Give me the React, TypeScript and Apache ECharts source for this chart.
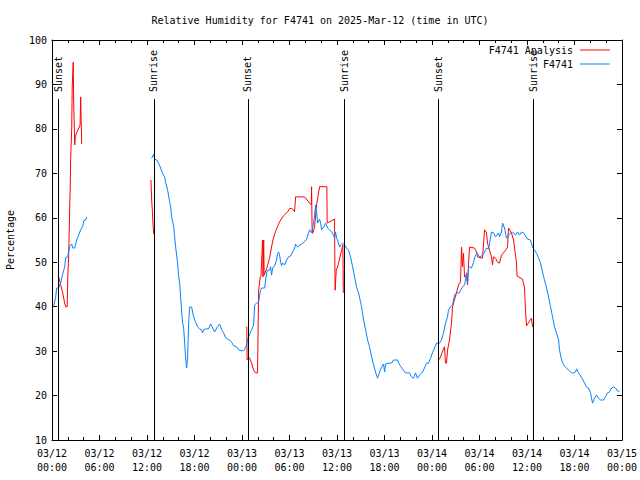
import React, { useEffect, useRef } from "react";
import * as echarts from "echarts";

// ---- data (time in hours since 2025-03-12 00:00 UTC) ----
const xTickLabels = [
  "03/12\n00:00", "03/12\n06:00", "03/12\n12:00", "03/12\n18:00",
  "03/13\n00:00", "03/13\n06:00", "03/13\n12:00", "03/13\n18:00",
  "03/14\n00:00", "03/14\n06:00", "03/14\n12:00", "03/14\n18:00",
  "03/15\n00:00",
];

const sunEventNames = ["Sunset", "Sunrise", "Sunset", "Sunrise", "Sunset", "Sunrise"];
const sunEventHours = [0.78, 12.86, 24.75, 36.93, 48.82, 60.82];
const sunLineBottom = 10;
const sunLineTop = 86.7;

const obsSeg1Hours = [0.21, 0.47, 0.59, 0.85, 0.97, 1.10, 1.22, 1.48, 1.60, 1.73, 1.98, 2.23, 2.49, 2.61, 2.87, 3.12, 3.37, 3.62, 3.88, 4.00, 4.26, 4.38];
const obsSeg1Values = [40.1, 42.2, 44.2, 44.2, 44.9, 45.3, 46.4, 48.2, 49.0, 51.0, 51.2, 53.6, 54.1, 53.2, 53.2, 55.0, 56.1, 57.3, 58.0, 59.3, 59.5, 60.2];

const obsSeg2Hours = [
  12.59, 12.84, 12.97, 13.22, 13.47, 13.72, 13.97, 14.23, 14.35, 14.61, 14.86, 14.99, 15.11, 15.37, 15.49, 15.62, 15.87, 16.00, 16.13, 16.25,
  16.38, 16.50, 16.63, 16.76, 16.88, 17.01, 17.13, 17.26, 17.39, 17.64, 17.76, 17.89, 18.14, 18.40, 18.65, 18.90, 19.03, 19.15, 19.41, 19.78,
  20.04, 20.29, 20.54, 20.80, 21.17, 21.43, 21.68, 21.93, 22.44, 22.69, 22.94, 23.32, 23.70, 24.21, 24.46, 24.71, 24.96, 25.21, 25.47, 25.60,
  25.85, 26.10, 26.23, 26.35, 26.48, 26.86, 26.99, 27.11, 27.23, 27.49, 27.61, 27.74, 27.87, 28.12, 28.37, 28.50, 28.63, 28.75, 28.88, 29.00,
  29.13, 29.38, 29.64, 29.89, 30.14, 30.39, 30.52, 30.65, 30.77, 30.90, 31.02, 31.28, 31.53, 31.91, 32.16, 32.41, 32.54, 32.79, 33.04, 33.17,
  33.30, 33.42, 33.55, 33.80, 33.93, 34.05, 34.31, 34.56, 34.81, 35.06, 35.32, 35.57, 35.69, 35.82, 35.95, 36.07, 36.33, 36.45, 36.70, 36.96,
  37.21, 37.46, 37.71, 37.97, 38.22, 38.47, 38.72, 38.98, 39.10, 39.36, 39.61, 39.86, 40.11, 40.37, 40.62, 40.87, 41.12, 41.38, 41.63, 41.88,
  42.01, 42.13, 42.51, 42.89, 43.14, 43.65, 43.90, 44.28, 44.65, 45.16, 45.41, 45.66, 45.92, 46.17, 46.42, 46.80, 47.05, 47.31, 47.56, 47.81,
  48.06, 48.32, 48.57, 48.95, 49.20, 49.45, 49.71, 49.96, 50.08, 50.34, 50.59, 50.72, 50.84, 51.09, 51.47, 51.60, 51.85, 52.11, 52.23, 52.36,
  52.49, 52.61, 52.74, 52.99, 53.24, 53.50, 53.75, 54.00, 54.26, 54.51, 54.76, 54.89, 55.14, 55.27, 55.52, 55.77, 56.03, 56.41, 56.53, 56.78,
  56.91, 57.16, 57.41, 57.66, 57.92, 58.17, 58.55, 58.80, 59.05, 59.31, 59.56, 59.81, 60.07, 60.44, 60.70, 60.95, 61.20, 61.46, 61.71, 61.96,
  62.21, 62.47, 62.72, 62.97, 63.23, 63.48, 63.73, 63.99, 64.11, 64.37, 64.62, 64.87, 65.25, 65.63, 65.88, 66.13, 66.26, 66.51, 66.76, 67.02,
  67.27, 67.52, 67.77, 68.03, 68.15, 68.28, 68.53, 68.78, 69.04, 69.29, 69.67, 69.92, 70.17, 70.42, 70.68, 70.93, 71.18, 71.44, 71.69,
];
const obsSeg2Values = [
  73.4, 74.3, 73.2, 73.0, 72.3, 71.2, 70.0, 69.2, 68.0, 66.2, 63.6, 62.4, 60.2, 58.0, 55.7, 53.4, 49.8, 46.7, 45.3, 42.2,
  38.8, 36.3, 35.2, 31.8, 28.4, 26.2, 28.7, 36.3, 39.9, 39.9, 38.8, 37.7, 36.5, 35.4, 35.0, 34.8, 34.1, 34.8, 35.0, 35.0,
  36.1, 35.2, 34.3, 35.2, 36.1, 34.8, 34.1, 33.0, 32.5, 32.0, 31.2, 31.0, 30.1, 30.1, 30.7, 32.5, 33.8, 34.8, 35.9, 40.4,
  40.8, 41.0, 42.6, 43.7, 44.2, 44.2, 46.0, 47.6, 48.2, 48.2, 49.0, 47.1, 48.7, 49.2, 50.5, 52.0, 52.3, 51.6, 50.0, 49.2,
  49.8, 49.4, 50.5, 51.2, 51.4, 52.3, 52.7, 53.2, 54.1, 53.6, 53.4, 53.9, 54.1, 54.6, 55.2, 56.6, 57.3, 56.6, 58.8, 60.6,
  62.9, 61.3, 58.8, 59.7, 58.8, 57.3, 57.9, 58.8, 57.7, 57.3, 56.8, 56.1, 55.4, 56.8, 55.4, 55.0, 53.4, 53.9, 54.3, 53.9,
  53.2, 52.7, 51.2, 49.0, 46.7, 44.4, 43.1, 41.0, 40.0, 37.0, 34.8, 32.5, 31.0, 28.7, 26.9, 25.3, 23.9, 25.3, 26.4, 27.1,
  25.3, 27.1, 27.3, 27.3, 28.0, 28.0, 26.9, 26.0, 25.1, 25.1, 24.2, 23.9, 25.1, 23.9, 24.6, 25.3, 26.2, 27.3, 27.3, 28.4,
  29.6, 30.7, 31.8, 31.8, 32.5, 34.1, 36.3, 37.7, 39.2, 40.0, 40.4, 41.5, 42.6, 43.1, 43.1, 43.7, 44.4, 44.9, 46.0, 47.6,
  45.3, 48.7, 49.0, 48.7, 50.0, 51.6, 52.0, 51.2, 51.4, 51.9, 52.7, 53.2, 53.0, 54.3, 56.8, 56.6, 55.7, 56.6, 55.7, 56.8,
  58.8, 57.7, 55.4, 56.1, 56.6, 56.8, 56.1, 56.8, 56.1, 56.8, 56.6, 55.9, 55.2, 55.0, 53.4, 52.7, 52.0, 51.0, 49.8, 47.8,
  46.0, 44.2, 42.2, 40.0, 37.7, 35.4, 34.1, 32.5, 30.2, 28.0, 26.9, 26.4, 25.7, 25.1, 25.1, 25.3, 26.0, 25.1, 24.4, 23.7,
  22.8, 21.9, 21.7, 20.6, 19.4, 18.3, 19.4, 20.1, 19.4, 19.0, 19.0, 19.7, 20.6, 20.8, 21.7, 21.9, 21.7, 21.0, 21.0,
];

const anaSeg1Hours = [0.85, 1.10, 1.35, 1.60, 1.73, 1.92, 2.00, 2.11, 2.23, 2.30, 2.36, 2.49, 2.55, 2.68, 2.74, 2.87, 2.95, 3.55, 3.62, 3.75];
const anaSeg1Values = [46.7, 44.9, 43.1, 40.8, 40.0, 40.0, 47.0, 51.6, 61.7, 66.7, 73.4, 80.0, 89.2, 95.0, 85.8, 76.4, 78.4, 80.9, 87.2, 76.6];

const anaSeg2Hours = [12.50, 12.59, 12.68, 12.75, 12.84];
const anaSeg2Values = [68.5, 64.0, 61.5, 58.8, 56.4];

const anaSeg3Hours = [
  24.60, 24.65, 24.96, 25.21, 25.47, 25.72, 25.95, 26.00, 26.10, 26.31, 26.40, 26.60, 26.66, 26.74, 26.80, 27.11, 27.49, 27.90, 28.25, 28.75,
  29.26, 29.80, 30.01, 30.30, 30.64, 30.77, 31.91, 32.54, 32.75, 32.79, 32.85, 32.92, 33.17, 33.42, 33.80, 34.72, 34.76, 35.69, 35.76, 35.91,
  36.07, 36.58, 36.74, 36.80,
];
const anaSeg3Values = [
  35.5, 28.0, 28.5, 27.3, 25.7, 25.1, 25.1, 30.2, 43.7, 46.7, 47.0, 55.0, 46.7, 55.0, 47.1, 48.5, 51.0, 55.0, 57.0, 59.1,
  60.5, 61.4, 62.1, 62.1, 61.4, 64.7, 64.7, 63.3, 62.9, 67.0, 57.6, 56.5, 57.9, 62.9, 67.0, 67.0, 58.8, 59.7, 43.7, 48.2,
  48.9, 52.7, 53.9, 43.1,
];

const anaSeg4Hours = [
  48.70, 48.95, 49.58, 49.70, 49.83, 49.96, 50.21, 50.46, 50.59, 51.09, 51.35, 51.60, 51.73, 51.85, 51.98, 52.11, 52.36, 52.49, 52.61, 52.74,
  53.37, 53.62, 53.75, 54.38, 54.64, 54.89, 55.01, 55.27, 55.52, 55.64, 55.77, 56.03, 56.28, 56.53, 56.78, 57.29, 57.54, 57.66, 58.04, 58.30,
  58.67, 58.74, 59.43, 59.69, 59.81, 59.94, 60.57, 60.70,
];
const anaSeg4Values = [
  28.0, 28.2, 31.0, 27.3, 27.3, 30.2, 32.5, 36.3, 40.0, 43.1, 44.9, 45.6, 53.4, 49.0, 52.0, 46.7, 47.1, 44.9, 49.4, 53.4,
  53.2, 52.3, 51.2, 50.9, 57.3, 56.6, 54.3, 52.7, 51.2, 49.4, 51.2, 50.9, 50.0, 49.8, 51.6, 52.7, 53.4, 57.7, 56.6, 55.0,
  50.0, 46.9, 46.2, 44.2, 39.2, 35.7, 37.4, 35.4,
];

// ---- helpers ----
function joinSegments(segs: [number[], number[]][]) {
  const out: any[] = [];
  segs.forEach(([hs, vs], i) => {
    if (i > 0) {
      const prev = segs[i - 1][0];
      out.push([(prev[prev.length - 1] + hs[0]) / 2, null]);
    }
    hs.forEach((h, j) => out.push([h, vs[j]]));
  });
  return out;
}

const FONT = "DejaVu Sans Mono";

export default function App() {
  const ref = useRef<HTMLDivElement>(null);
  useEffect(() => {
    if (!ref.current) return;
    const chart = echarts.init(ref.current, null, { renderer: "svg" });
    const analysisData = joinSegments([
      [anaSeg1Hours, anaSeg1Values],
      [anaSeg2Hours, anaSeg2Values],
      [anaSeg3Hours, anaSeg3Values],
      [anaSeg4Hours, anaSeg4Values],
    ]);
    const obsData = joinSegments([
      [obsSeg1Hours, obsSeg1Values],
      [obsSeg2Hours, obsSeg2Values],
    ]);
    const sunLines = sunEventHours.map((h) => [
      { coord: [h, sunLineBottom] },
      { coord: [h, sunLineTop] },
    ]);
    const axisLineStyle = { color: "#000", width: 1 };
    const baseX = {
      type: "value",
      min: 0,
      max: 72,
      interval: 6,
      splitLine: { show: false },
      axisLine: { show: true, onZero: false, lineStyle: axisLineStyle },
      axisTick: { show: true, inside: true, length: 5, lineStyle: axisLineStyle },
      minorTick: { show: true, splitNumber: 3, length: 3, lineStyle: axisLineStyle },
    };
    const baseY = {
      type: "value",
      min: 10,
      max: 100,
      interval: 10,
      splitLine: { show: false },
      axisLine: { show: true, onZero: false, lineStyle: axisLineStyle },
      axisTick: { show: true, inside: true, length: 5, lineStyle: axisLineStyle },
    };
    chart.setOption({
      animation: false,
      backgroundColor: "#fff",
      textStyle: { fontFamily: FONT },
      title: {
        text: "Relative Humidity for F4741 on 2025-Mar-12 (time in UTC)",
        left: "center",
        top: 10,
        textStyle: { fontFamily: FONT, fontSize: 10, fontWeight: "normal", color: "#000" },
      },
      legend: {
        orient: "vertical",
        right: 30,
        top: 45,
        padding: 0,
        align: "right",
        icon: "rect",
        itemWidth: 30,
        itemHeight: 1,
        itemGap: 4,
        textStyle: { fontFamily: FONT, fontSize: 10, color: "#000", padding: [0, 2, 0, 0] },
        data: ["F4741 Analysis", "F4741"],
      },
      grid: {
        left: 52,
        right: 18,
        top: 40,
        bottom: 40,
        containLabel: false,
        outerBoundsMode: "none",
      },
      xAxis: [
        {
          ...baseX,
          position: "bottom",
          axisLabel: {
            color: "#000",
            fontFamily: FONT,
            fontSize: 10,
            lineHeight: 14,
            margin: 6,
            formatter: (v: number) => xTickLabels[Math.round(v / 6)] ?? "",
          },
        },
        { ...baseX, position: "top", axisLabel: { show: false } },
      ],
      yAxis: [
        {
          ...baseY,
          position: "left",
          name: "Percentage",
          nameLocation: "middle",
          nameGap: 37,
          nameTextStyle: { color: "#000", fontFamily: FONT, fontSize: 10 },
          axisLabel: { color: "#000", fontFamily: FONT, fontSize: 10, margin: 5 },
        },
        { ...baseY, position: "right", axisLabel: { show: false } },
      ],
      series: [
        {
          name: "F4741 Analysis",
          type: "line",
          data: analysisData,
          symbol: "none",
          connectNulls: false,
          lineStyle: { color: "#ff0000", width: 1 },
          itemStyle: { color: "#ff0000" },
          markLine: {
            silent: true,
            symbol: ["none", "none"],
            lineStyle: { color: "#000", width: 1, type: "solid" },
            label: { show: false },
            data: sunLines,
          },
        },
        {
          name: "F4741",
          type: "line",
          data: obsData,
          symbol: "none",
          connectNulls: false,
          lineStyle: { color: "#0a80ff", width: 1 },
          itemStyle: { color: "#0a80ff" },
        },
      ],
    });
    // Sunrise / sunset labels, placed through the chart's own scales
    const texts = sunEventHours.map((h, i) => {
      const p = chart.convertToPixel({ xAxisIndex: 0, yAxisIndex: 0 }, [h, sunLineTop]) as number[];
      return {
        type: "text",
        x: p[0],
        y: p[1] - 7,
        rotation: Math.PI / 2,
        silent: true,
        style: {
          text: sunEventNames[i],
          fill: "#000",
          font: `10px "${FONT}"`,
          align: "left",
          verticalAlign: "middle",
        },
      };
    });
    chart.setOption({ graphic: texts });
    return () => chart.dispose();
  }, []);
  return (
    <div
      ref={ref}
      style={{ position: "fixed", left: 0, top: 0, width: 640, height: 480, background: "#fff" }}
    />
  );
}
